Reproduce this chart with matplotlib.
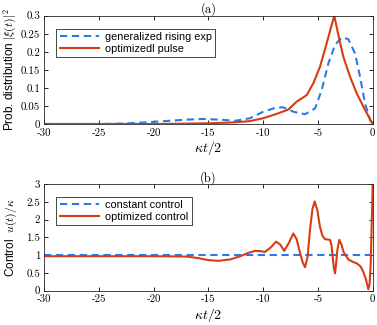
import numpy as np
import matplotlib
matplotlib.use("Agg")
import matplotlib.pyplot as plt

plt.rcParams["mathtext.fontset"] = "cm"
plt.rcParams["axes.unicode_minus"] = False

# (a) probability distribution
t_exp = [-30, -25, -23, -21, -19, -17, -15.5, -14, -12.5, -11.2, -10, -8.77, -8.16,
         -7.25, -6.18, -5.27, -4.66, -4.05, -3.44, -2.83, -2.23, -1.62, -1.16,
         -0.7, -0.24, 0]
p_exp = [0, 0, 0.001, 0.004, 0.008, 0.012, 0.014, 0.012, 0.009, 0.016, 0.034, 0.046,
         0.046, 0.034, 0.027, 0.043, 0.094, 0.168, 0.219, 0.240, 0.235, 0.196, 0.131,
         0.057, 0.011, 0]

t_opt = [-30, -20, -17, -15, -13, -12, -11.21, -10, -8.77, -7.71, -6.94, -6.03, -5.42,
         -4.81, -4.2, -3.75, -3.51, -3.14, -2.69, -2.07, -1.46, -0.7, 0]
p_opt = [0, 0, 0.001, 0.002, 0.004, 0.006, 0.008, 0.016, 0.028, 0.040, 0.062, 0.080,
         0.113, 0.159, 0.224, 0.274, 0.300, 0.247, 0.187, 0.131, 0.085, 0.039, 0]

# (b) control
t_const = [-30, 0]
u_const = [1, 1]

t_ctrl = [-30, -25, -20, -17, -16, -15, -14.1, -13, -12.1, -11.4, -10.75, -10.2, -9.84,
          -9.3, -8.83, -8.45, -8.08, -7.65, -7.25, -6.95, -6.7, -6.4, -6.18, -5.95,
          -5.73, -5.5, -5.3, -5.05, -4.82, -4.6, -4.36, -4.1, -3.9, -3.75, -3.66,
          -3.55, -3.44, -3.33, -3.23, -3.05, -2.85, -2.68, -2.23, -1.8, -1.46, -1.1,
          -0.86, -0.6, -0.4, -0.28, -0.18, -0.08, 0]
u_ctrl = [0.97, 0.97, 0.97, 0.96, 0.92, 0.86, 0.84, 0.88, 0.97, 1.06, 1.12, 1.11, 1.09,
          1.22, 1.38, 1.30, 1.12, 1.35, 1.61, 1.45, 1.14, 0.80, 0.66, 0.95,
          1.71, 2.30, 2.51, 2.25, 1.80, 1.55, 1.45, 1.44, 1.43, 1.25, 0.96,
          0.65, 0.49, 0.80, 1.14, 1.43, 1.30, 1.10, 0.88, 0.81, 0.77, 0.68,
          0.53, 0.30, 0.04, 0.20, 0.77, 2.0, 3.0]

blue = "#2b7ae8"
red = "#d73c14"

fig = plt.figure(figsize=(3.77, 3.25), dpi=100)
ax1 = fig.add_axes([0.1175, 0.6185, 0.8711, 0.3332])
ax2 = fig.add_axes([0.1175, 0.1055, 0.8711, 0.3283])

ax1.plot(t_exp, p_exp, "--", color=blue, lw=1.5, dashes=(3.5, 2.2),
         label="generalized rising exp")
ax1.plot(t_opt, p_opt, "-", color=red, lw=1.5, label="optimizedl pulse")
ax1.set_ylim(0, 0.3)
ax1.set_yticks([0, 0.05, 0.1, 0.15, 0.2, 0.25, 0.3])
ax1.set_yticklabels(["0", "0.05", "0.1", "0.15", "0.2", "0.25", "0.3"])
ax1.set_ylabel(r"Prob. distribution $|\xi(t)|^2$", fontsize=8.5, family="Liberation Sans",
               labelpad=1)
ax1.set_title("(a)", fontsize=9, family="cmr10", pad=2)

ax2.plot(t_const, u_const, "--", color=blue, lw=1.5, dashes=(3.5, 2.2),
         label="constant control")
ax2.plot(t_ctrl, u_ctrl, "-", color=red, lw=1.5, label="optimized control")
ax2.set_ylim(0, 3)
ax2.set_yticks([0, 0.5, 1, 1.5, 2, 2.5, 3])
ax2.set_yticklabels(["0", "0.5", "1", "1.5", "2", "2.5", "3"])
ax2.set_ylabel(r"Control  $u(t)/\kappa$", fontsize=8.5, family="Liberation Sans",
               labelpad=5)
ax2.set_title("(b)", fontsize=9, family="cmr10", pad=2)

for ax in (ax1, ax2):
    ax.set_xlim(-30, 0)
    ax.set_xticks([-30, -25, -20, -15, -10, -5, 0])
    ax.set_xticklabels(["-30", "-25", "-20", "-15", "-10", "-5", "0"])
    ax.tick_params(direction="in", top=True, right=True, length=3, width=0.6, pad=3)
    for lab in ax.get_xticklabels() + ax.get_yticklabels():
        lab.set_fontfamily("cmr10")
        lab.set_fontsize(7.8)
    for sp in ax.spines.values():
        sp.set_linewidth(0.6)
        sp.set_color("#262626")
    ax.set_xlabel(r"$\kappa t/2$", fontsize=10, labelpad=1)
    leg = ax.legend(loc="upper left", frameon=True, fancybox=False,
                    edgecolor="#262626", framealpha=1, handlelength=3.6,
                    borderpad=0.3, labelspacing=0.15, handletextpad=0.6,
                    bbox_to_anchor=(0.02, 0.93), prop={"family": "Liberation Sans", "size": 7.8})
    leg.get_frame().set_linewidth(0.6)

fig.savefig("out.png", dpi=100)
